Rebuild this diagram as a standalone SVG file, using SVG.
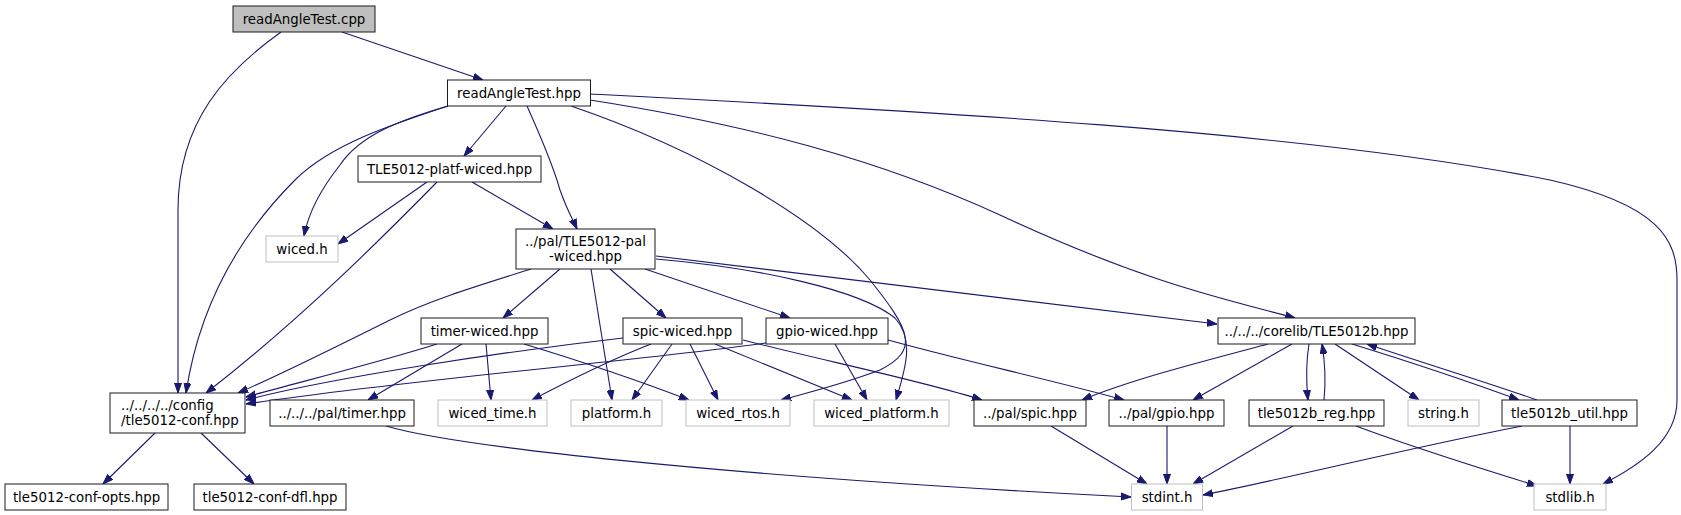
<svg xmlns="http://www.w3.org/2000/svg" width="1681" height="515" viewBox="0 0 1681 515">
<defs>
<style>
.n rect{fill:#fff;stroke:#1a1a1a;stroke-width:1}
.n.g rect{stroke:#bfbfbf}
.n.root rect{fill:#bfbfbf}
.n text{font-family:"DejaVu Sans",sans-serif;font-size:13.33px;fill:#000;text-anchor:middle}
#edges path{fill:none;stroke:#191970;stroke-width:1.1;marker-end:url(#ah)}
</style>
<marker id="ah" viewBox="0 0 10 8" refX="10" refY="4" markerWidth="10" markerHeight="8" markerUnits="userSpaceOnUse" orient="auto">
<path d="M0,0.5 L10,4 L0,7.5 z" fill="#191970" stroke="#191970" stroke-width="1"/>
</marker>
</defs>
<rect width="1681" height="515" fill="#fff"/>
<g id="edges">
<path d="M342,32 L483,80"/>
<path d="M281,32 C228,70 178,120 178,210 C178,280 178,340 178,393"/>
<path d="M448,106 C390,125 330,145 295,180 C245,230 200,300 186,393"/>
<path d="M448,106 C400,120 360,135 340,165 C320,190 308,215 304,236"/>
<path d="M506,106 L464,156"/>
<path d="M527,106 C540,135 553,165 560,190 C567,210 573,220 577,229"/>
<path d="M571,106 C700,150 820,220 870,280 C910,330 920,350 880,370 C840,385 810,392 781,400"/>
<path d="M590,100 C750,125 880,160 1000,215 C1150,285 1230,300 1295,318"/>
<path d="M590,94 C900,110 1300,130 1550,180 C1660,205 1677,240 1677,280 L1677,400 C1677,440 1640,465 1603,484"/>
<path d="M427,182 L338,244"/>
<path d="M437,182 C380,240 300,320 206,393"/>
<path d="M472,182 L553,229"/>
<path d="M531,269 C480,285 430,300 390,320 C330,350 280,375 238,393"/>
<path d="M560,269 L503,318"/>
<path d="M591,269 L612,400"/>
<path d="M610,269 L666,318"/>
<path d="M645,269 L790,318"/>
<path d="M656,256 L1217,324"/>
<path d="M656,259 C760,268 860,290 895,318 C915,340 905,370 896,400"/>
<path d="M437,344 C380,362 300,382 246,397"/>
<path d="M462,344 L368,400"/>
<path d="M486,344 L491,400"/>
<path d="M524,344 C600,367 650,385 689,400"/>
<path d="M623,338 C500,352 330,378 246,400"/>
<path d="M651,344 C610,360 570,380 532,400"/>
<path d="M672,344 L632,400"/>
<path d="M690,344 L718,400"/>
<path d="M715,344 L852,400"/>
<path d="M743,340 C820,360 920,380 982,400"/>
<path d="M766,343 C650,360 420,378 246,404"/>
<path d="M835,344 L867,400"/>
<path d="M888,340 C960,360 1060,382 1124,400"/>
<path d="M1268,344 C1200,362 1130,380 1082,400"/>
<path d="M1292,344 L1193,400"/>
<path d="M1309,344 C1306,362 1306,380 1308,400"/>
<path d="M1324,400 C1326,380 1325,362 1322,344"/>
<path d="M1335,344 L1419,400"/>
<path d="M1352,344 C1420,365 1470,382 1519,400"/>
<path d="M1537,400 C1480,380 1420,362 1367,344"/>
<path d="M155,433 L103,484"/>
<path d="M201,433 L254,484"/>
<path d="M386,426 C450,445 700,475 1131,497"/>
<path d="M1051,426 L1147,484"/>
<path d="M1167,426 L1167,484"/>
<path d="M1293,426 L1193,484"/>
<path d="M1356,426 C1420,450 1480,468 1537,486"/>
<path d="M1522,426 C1400,450 1280,480 1203,495"/>
<path d="M1570,426 L1570,484"/>
</g>
<g id="n_cpp" class="n root"><rect x="233" y="6" width="142" height="26"/><text x="304" y="23.5">readAngleTest.cpp</text></g>
<g id="n_hpp" class="n"><rect x="447.5" y="80" width="143" height="26"/><text x="519" y="97.5">readAngleTest.hpp</text></g>
<g id="n_platf" class="n"><rect x="358" y="156" width="183" height="26"/><text x="449.5" y="173.5">TLE5012-platf-wiced.hpp</text></g>
<g id="n_wicedh" class="n g"><rect x="266" y="236" width="72" height="26"/><text x="302" y="253.5">wiced.h</text></g>
<g id="n_palwiced" class="n"><rect x="516" y="229" width="139" height="40"/><text x="585.5" y="246">../pal/TLE5012-pal</text><text x="585.5" y="261">-wiced.hpp</text></g>
<g id="n_timerwiced" class="n"><rect x="421" y="318" width="127" height="26"/><text x="484.5" y="335.5">timer-wiced.hpp</text></g>
<g id="n_spicwiced" class="n"><rect x="623" y="318" width="119" height="26"/><text x="682.5" y="335.5">spic-wiced.hpp</text></g>
<g id="n_gpiowiced" class="n"><rect x="766" y="318" width="122" height="26"/><text x="827" y="335.5">gpio-wiced.hpp</text></g>
<g id="n_corelib" class="n"><rect x="1218" y="318" width="197" height="26"/><text x="1316.5" y="335.5">../../../corelib/TLE5012b.hpp</text></g>
<g id="n_config" class="n"><rect x="110" y="393" width="135" height="40"/><text x="121" y="410" style="text-anchor:start">../../../../config</text><text x="121" y="425" style="text-anchor:start">/tle5012-conf.hpp</text></g>
<g id="n_timer" class="n"><rect x="270" y="400" width="144" height="26"/><text x="342" y="417.5">../../../pal/timer.hpp</text></g>
<g id="n_wicedtime" class="n g"><rect x="438" y="400" width="109" height="26"/><text x="492.5" y="417.5">wiced_time.h</text></g>
<g id="n_platform" class="n g"><rect x="571" y="400" width="91" height="26"/><text x="616.5" y="417.5">platform.h</text></g>
<g id="n_wicedrtos" class="n g"><rect x="686" y="400" width="104" height="26"/><text x="738" y="417.5">wiced_rtos.h</text></g>
<g id="n_wicedplatform" class="n g"><rect x="814" y="400" width="135" height="26"/><text x="881.5" y="417.5">wiced_platform.h</text></g>
<g id="n_spic" class="n"><rect x="974" y="400" width="112" height="26"/><text x="1030" y="417.5">../pal/spic.hpp</text></g>
<g id="n_gpio" class="n"><rect x="1109" y="400" width="115" height="26"/><text x="1166.5" y="417.5">../pal/gpio.hpp</text></g>
<g id="n_reg" class="n"><rect x="1249" y="400" width="135" height="26"/><text x="1316.5" y="417.5">tle5012b_reg.hpp</text></g>
<g id="n_string" class="n g"><rect x="1408" y="400" width="71" height="26"/><text x="1443.5" y="417.5">string.h</text></g>
<g id="n_util" class="n"><rect x="1502" y="400" width="135" height="26"/><text x="1569.5" y="417.5">tle5012b_util.hpp</text></g>
<g id="n_opts" class="n"><rect x="5" y="484" width="163" height="26"/><text x="86.5" y="501.5">tle5012-conf-opts.hpp</text></g>
<g id="n_dfl" class="n"><rect x="194" y="484" width="152" height="26"/><text x="270" y="501.5">tle5012-conf-dfl.hpp</text></g>
<g id="n_stdint" class="n g"><rect x="1131.5" y="484" width="71" height="26"/><text x="1167" y="501.5">stdint.h</text></g>
<g id="n_stdlib" class="n g"><rect x="1534" y="484" width="72" height="26"/><text x="1570" y="501.5">stdlib.h</text></g>
</svg>
